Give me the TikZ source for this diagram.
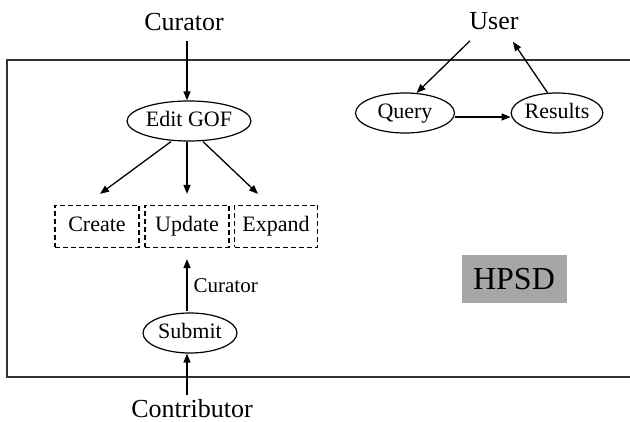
\documentclass[tikz,border=0pt]{standalone}
\usepackage{fontspec}
\setmainfont{Liberation Serif}
\usetikzlibrary{shapes.geometric,arrows.meta,calc}
\begin{document}
\begin{tikzpicture}[x=1pt,y=-1pt,
  every node/.style={inner sep=0pt},
  conn/.style={line width=1.3pt,-{Triangle[length=9pt,width=7pt]}},
  inner/.style={font=\fontsize{22}{24}\selectfont,text height=15pt,text depth=4pt},
  oval/.style={ellipse,draw,line width=1.2pt,inner},
  dbox/.style={draw,dash pattern=on 5pt off 3pt,line width=1.2pt,minimum height=42pt,inner},
  actor/.style={font=\fontsize{26}{28}\selectfont}]
\useasboundingbox (0,0) rectangle (630,422);
\draw[line width=1.8pt,black!80] (630,60) -- (7,60) -- (7,377) -- (630,377);
% actors
\node[actor] (cur) at (184,22) {Curator};
\node[actor] (user) at (494,21) {User};
\node[actor] (contrib) at (192,409) {Contributor};
% ovals
\node[oval,minimum width=124pt,minimum height=40pt] (edit) at (189,121) {Edit GOF};
\node[oval,minimum width=94pt,minimum height=40pt] (submit) at (190,333) {Submit};
\node[oval,minimum width=99pt,minimum height=40pt] (query) at (405,113) {Query};
\node[oval,minimum width=90pt,minimum height=40pt] (results) at (557,113) {Results};
% dashed boxes
\node[dbox,minimum width=84pt] (create) at (97,226.5) {Create};
\node[dbox,minimum width=84pt] (update) at (187,226.5) {Update};
\node[dbox,minimum width=83pt] (expand) at (276,226.5) {Expand};
% HPSD
\node[fill=black!35,minimum width=105pt,minimum height=48pt,font=\fontsize{32}{34}\selectfont] (hpsd) at (514,279) {HPSD};
% connectors
\draw[conn] ($(update.north|-cur.south)+(0,10)$) -- (edit.north -| update.north);
\draw[conn] ($(edit.south)+(-18,0)$) -- ($(create.north)+(3,-11)$);
\draw[conn] (edit.south -| update.north) -- ($(update.north)+(0,-11)$);
\draw[conn] ($(edit.south)+(14,0)$) -- ($(expand.north)+(-18,-11)$);
\draw[conn] ($(submit.north -| update.south)+(0,-1)$) -- ($(update.south)+(0,11)$) node[midway,right=6pt,font=\fontsize{21}{23}\selectfont] {Curator};
\draw[conn] ($(contrib.north -| update.south)+(0,-5)$) -- (submit.south -| update.south);
\draw[conn] ($(user.south)+(-24,11)$) -- (query.60);
\draw[conn] ($(query.east)+(0,4)$) -- ($(results.west)+(0,4)$);
\draw[conn] (results.115) -- ($(user.south)+(19,12)$);
\end{tikzpicture}
\end{document}
